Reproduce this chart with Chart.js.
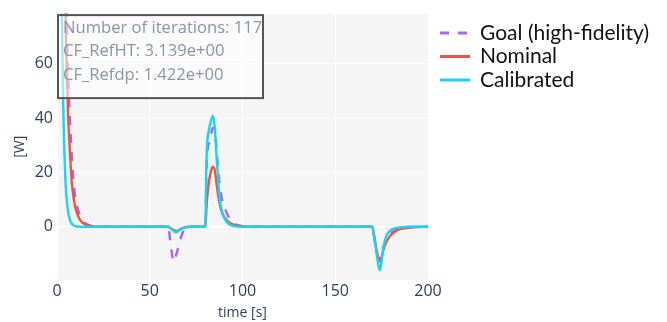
<!DOCTYPE html>
<html><head><meta charset="utf-8">
<script src="https://cdn.jsdelivr.net/npm/chart.js@4"></script>
<style>html,body{margin:0;padding:0;background:#fff;overflow:hidden}</style>
</head><body>
<canvas id="c" width="667" height="322"></canvas>
<script>
// ---- data ----
const times = [0,2,3,3.5,4,4.5,5,6,7,8,9,10,12,14,16,18,20,25,30,40,50,60,61,62,63,64,65,66,67,68,69,70,72,75,80,80.5,81,82,83,84,85,86,87,88,89,90,92,94,96,98,100,105,110,120,140,160,170,171,172,173,174,175,176,177,178,180,182,185,190,195,200];
const goal = [160,135,120,112,104,94,82,56,39,26,16,10.5,4.8,2.2,1,0.45,0.2,0.03,0,0,0,0,-5,-10,-12.8,-11,-8.5,-5.8,-3.5,-1.8,-0.8,-0.3,0,0,0,18,27,31,34,36.5,36,29,20,14,10,7.8,4.3,2.1,1,0.5,0.25,0.04,0,0,0,0,0,-3.8,-8,-11,-11.5,-9.5,-7.3,-5.5,-4.2,-2.4,-1.4,-0.6,-0.2,0,0];
const nominal = [170,140,125,115,100,82,64,41,27,16,10.5,6.8,3,1.4,0.7,0.3,0.1,0,0,0,0,0,-0.4,-0.8,-1.2,-1.5,-1.5,-1.1,-0.7,-0.4,-0.2,-0.1,0,0,0,6,11,17,20.5,22,21,16,11,7.5,5.2,3.8,2,1.1,0.6,0.3,0.15,0.02,0,0,0,0,0,-3.5,-7.5,-11,-12.7,-11,-8.5,-6.5,-5,-3,-1.9,-0.9,-0.3,-0.1,0];
const calibrated = [160,110,60,40,27,18,12,5.5,2.5,1.1,0.5,0.2,0.05,0,0,0,0,0,0,0,0,0,-0.5,-1,-1.6,-2,-1.8,-1.3,-0.8,-0.4,-0.2,-0.05,0,0,0,22,31,36,39,40.8,37,26,16,9,5.5,3.5,1.4,0.5,0.2,0.05,0,0,0,0,0,0,0,-4,-8.5,-13,-16,-12.5,-7.5,-4.5,-2.8,-1.2,-0.6,-0.2,0,0,0];
const seriesNames = ['Goal (high-fidelity)','Nominal','Calibrated'];
const seriesColors = ['#ab63fa','#ef553b','#19d3f3'];
const xTicks = [0,50,100,150,200];
const yTicks = [0,20,40,60];
const infoLines = ['Number of iterations: 117','CF_RefHT: 3.139e+00','CF_Refdp: 1.422e+00'];
const xTitle = 'time [s]';
const yTitle = '[W]';

const toPts = arr => times.map((t,i)=>({x:t,y:arr[i]}));
const dashes = [[9,9],[],[]];
const seriesData = [goal, nominal, calibrated];

const datasets = seriesData.map((arr,i)=>({
  label: seriesNames[i],
  data: toPts(arr),
  borderColor: seriesColors[i],
  borderWidth: 2.4,
  borderDash: dashes[i],
  pointRadius: 0,
  fill: false,
  cubicInterpolationMode: 'monotone',
  clip: 0,
  order: 2 - i
}));

const AXIS_COLOR = '#2a3f5f';

const bgPlugin = {
  id: 'bg',
  beforeDraw(chart){
    const {ctx, chartArea:a} = chart;
    ctx.save();
    ctx.fillStyle = '#fff';
    ctx.fillRect(0,0,chart.width,chart.height);
    ctx.fillStyle = '#f5f5f5';
    ctx.fillRect(a.left, a.top, a.right-a.left, a.bottom-a.top);
    ctx.restore();
  }
};

const infoPlugin = {
  id: 'info',
  afterDatasetsDraw(chart){
    const {ctx, chartArea:a} = chart;
    ctx.save();
    const x0 = a.left, y0 = a.top + 0.5, w = 207, h = 85;
    ctx.fillStyle = 'rgba(255,255,255,0.55)';
    ctx.fillRect(x0, y0, w, h);
    ctx.strokeStyle = '#555';
    ctx.lineWidth = 2;
    ctx.strokeRect(x0+1, y0+1, w-2, h-2);
    ctx.fillStyle = '#8a95a7';
    ctx.font = '16.6px "Open Sans"';
    ctx.textBaseline = 'alphabetic';
    infoLines.forEach((s,i)=> ctx.fillText(s, x0+6, 33 + i*23.3));
    ctx.restore();
  }
};

const legendPlugin = {
  id: 'customLegend',
  afterDraw(chart){
    const ctx = chart.ctx;
    ctx.save();
    const ys = [33, 56.5, 80];
    seriesNames.forEach((n,i)=>{
      ctx.strokeStyle = seriesColors[i];
      ctx.lineWidth = 3;
      ctx.setLineDash(dashes[i]);
      ctx.beginPath();
      ctx.moveTo(440, ys[i]);
      ctx.lineTo(470, ys[i]);
      ctx.stroke();
      ctx.setLineDash([]);
      ctx.fillStyle = '#111';
      ctx.font = '21px Lato';
      ctx.textBaseline = 'middle';
      ctx.fillText(n, 480, ys[i]);
    });
    ctx.restore();
  }
};

new Chart(document.getElementById('c'), {
  type: 'line',
  data: { datasets },
  options: {
    responsive: false,
    animation: false,
    devicePixelRatio: 1,
    layout: { padding: { top: 7, right: 239, left: 0, bottom: 0 } },
    plugins: { legend: { display: false }, tooltip: { enabled: false } },
    scales: {
      x: {
        type: 'linear', min: 0, max: 200,
        afterBuildTicks: s => { s.ticks = xTicks.map(v=>({value:v})); },
        afterFit: s => { s.height = 42; },
        grid: { color: '#ffffff', lineWidth: 1, drawTicks: false },
        border: { display: false },
        ticks: { color: AXIS_COLOR, font: { family: 'Open Sans', size: 16 }, padding: 2, maxRotation: 0 },
        title: { display: true, text: xTitle, color: AXIS_COLOR, font: { family: 'Open Sans', size: 14 }, padding: { top: 0, bottom: 1 } }
      },
      y: {
        type: 'linear', min: -19.6, max: 78.5,
        afterBuildTicks: s => { s.ticks = yTicks.map(v=>({value:v})); },
        afterFit: s => { s.width = 57; },
        grid: { color: '#ffffff', lineWidth: c => (c.tick && c.tick.value === 0) ? 2 : 1, drawTicks: false },
        border: { display: false },
        ticks: { color: AXIS_COLOR, font: { family: 'Open Sans', size: 16 }, padding: 4 },
        title: { display: true, text: yTitle, color: AXIS_COLOR, font: { family: 'Open Sans', size: 14 }, padding: { top: 12, bottom: 0 } }
      }
    }
  },
  plugins: [bgPlugin, infoPlugin, legendPlugin]
});
</script>
</body></html>
